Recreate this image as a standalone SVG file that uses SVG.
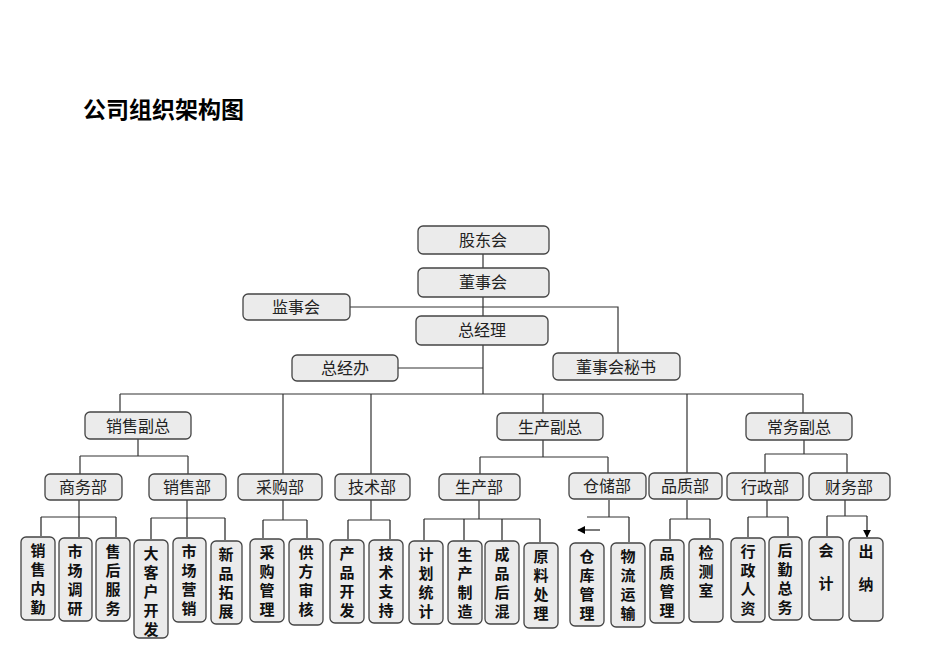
<svg xmlns="http://www.w3.org/2000/svg" width="950" height="672" viewBox="0 0 950 672">
<defs>
<marker id="ar" viewBox="0 0 10 10" refX="9" refY="5" markerWidth="8" markerHeight="8" markerUnits="userSpaceOnUse" orient="auto"><path d="M0,0L10,5L0,10z" fill="#000"/></marker>
</defs>
<style>
.b{fill:#ebebeb;stroke:#444;stroke-width:1.3}
.t{font-family:"Noto Sans CJK SC",sans-serif;font-size:16px;fill:#222;text-anchor:middle}
.v{font-family:"Noto Sans CJK SC",sans-serif;font-size:15px;font-weight:bold;fill:#111;text-anchor:middle}
.l{fill:none;stroke:#333;stroke-width:1.2}
.a{fill:none;stroke:#222;stroke-width:1.2;marker-end:url(#ar)}
</style>
<rect width="950" height="672" fill="#fff"/>
<text x="83" y="118" style="font-family:'Noto Sans CJK SC',sans-serif;font-size:23px;font-weight:bold">公司组织架构图</text>
<g id="connectors">
<path class="l" d="M483,254V268M483,297V316M350,307H618V353M483,345V394M398,368H483M120,394H803M120,394V412M283,394V474M371,394V474M543,394V413M687,394V474M803,394V413"/>
<path class="l" d="M138,439V456M80,456H188M80,456V474M188,456V474M543,440V457M480,457H608M480,457V474M608,457V474M804,440V454M765,454H847M765,454V474M847,454V474"/>
<path class="l" d="M79,500V517M41,517H116M187,500V518M151,518H225M283,500V520M263,520H307M371,500V520M348,520H390M479,500V519M424,519H540M609,500V517M587,517H629M687,500V519M670,519H710M767,500V517M748,517H788M845,500V516M827,516H867"/>
<path class="a" d="M41,517V536M79,517V537M116,517V537M151,518V539M187,518V537M225,518V540M263,520V538M307,520V538M348,520V539M390,520V539M424,519V540M464,519V540M502,519V540M540,519V542M629,517V542M670,519V539M710,519V538M748,517V537M788,517V536M827,516V536M867,516V537"/>
<path class="a" d="M600,530H578"/>
</g>
<g id="n1"><rect class="b" x="418" y="226" width="131" height="28" rx="5"/><text class="t" x="483" y="246">股东会</text></g>
<g id="n2"><rect class="b" x="418" y="268" width="131" height="29" rx="5"/><text class="t" x="483" y="288">董事会</text></g>
<g id="n3"><rect class="b" x="243" y="294" width="107" height="26" rx="5"/><text class="t" x="296" y="313">监事会</text></g>
<g id="n4"><rect class="b" x="416" y="316" width="132" height="29" rx="5"/><text class="t" x="482" y="336">总经理</text></g>
<g id="n5"><rect class="b" x="292" y="355" width="106" height="26" rx="5"/><text class="t" x="345" y="374">总经办</text></g>
<g id="n6"><rect class="b" x="553" y="353" width="127" height="27" rx="5"/><text class="t" x="616" y="373">董事会秘书</text></g>
<g id="n7"><rect class="b" x="85" y="412" width="106" height="27" rx="5"/><text class="t" x="138" y="432">销售副总</text></g>
<g id="n8"><rect class="b" x="497" y="413" width="106" height="27" rx="5"/><text class="t" x="550" y="433">生产副总</text></g>
<g id="n9"><rect class="b" x="746" y="413" width="106" height="27" rx="5"/><text class="t" x="799" y="433">常务副总</text></g>
<g id="d1"><rect class="b" x="45" y="474" width="77" height="26" rx="5"/><text class="t" x="83" y="493">商务部</text></g>
<g id="d2"><rect class="b" x="149" y="474" width="77" height="26" rx="5"/><text class="t" x="187" y="493">销售部</text></g>
<g id="d3"><rect class="b" x="238" y="474" width="84" height="26" rx="5"/><text class="t" x="280" y="493">采购部</text></g>
<g id="d4"><rect class="b" x="335" y="474" width="75" height="26" rx="5"/><text class="t" x="372" y="493">技术部</text></g>
<g id="d5"><rect class="b" x="439" y="474" width="81" height="26" rx="5"/><text class="t" x="479" y="493">生产部</text></g>
<g id="d6"><rect class="b" x="569" y="473" width="77" height="26" rx="5"/><text class="t" x="607" y="492">仓储部</text></g>
<g id="d7"><rect class="b" x="649" y="473" width="73" height="26" rx="5"/><text class="t" x="685" y="492">品质部</text></g>
<g id="d8"><rect class="b" x="727" y="473" width="76" height="27" rx="5"/><text class="t" x="765" y="493">行政部</text></g>
<g id="d9"><rect class="b" x="809" y="473" width="81" height="27" rx="5"/><text class="t" x="849" y="493">财务部</text></g>
<g id="s1"><rect class="b" x="21" y="537" width="34" height="83" rx="5"/><text class="v" x="38" y="556"><tspan x="38">销</tspan><tspan x="38" dy="19">售</tspan><tspan x="38" dy="19">内</tspan><tspan x="38" dy="19">勤</tspan></text></g>
<g id="s2"><rect class="b" x="59" y="538" width="33" height="83" rx="5"/><text class="v" x="75" y="557"><tspan x="75">市</tspan><tspan x="75" dy="19">场</tspan><tspan x="75" dy="19">调</tspan><tspan x="75" dy="19">研</tspan></text></g>
<g id="s3"><rect class="b" x="96" y="538" width="34" height="83" rx="5"/><text class="v" x="113" y="557"><tspan x="113">售</tspan><tspan x="113" dy="19">后</tspan><tspan x="113" dy="19">服</tspan><tspan x="113" dy="19">务</tspan></text></g>
<g id="s4"><rect class="b" x="134" y="540" width="34" height="98" rx="5"/><text class="v" x="151" y="559"><tspan x="151">大</tspan><tspan x="151" dy="19">客</tspan><tspan x="151" dy="19">户</tspan><tspan x="151" dy="19">开</tspan><tspan x="151" dy="19">发</tspan></text></g>
<g id="s5"><rect class="b" x="173" y="538" width="33" height="84" rx="5"/><text class="v" x="189" y="557"><tspan x="189">市</tspan><tspan x="189" dy="19">场</tspan><tspan x="189" dy="19">营</tspan><tspan x="189" dy="19">销</tspan></text></g>
<g id="s6"><rect class="b" x="211" y="541" width="31" height="83" rx="5"/><text class="v" x="226" y="560"><tspan x="226">新</tspan><tspan x="226" dy="19">品</tspan><tspan x="226" dy="19">拓</tspan><tspan x="226" dy="19">展</tspan></text></g>
<g id="s7"><rect class="b" x="250" y="539" width="34" height="83" rx="5"/><text class="v" x="267" y="558"><tspan x="267">采</tspan><tspan x="267" dy="19">购</tspan><tspan x="267" dy="19">管</tspan><tspan x="267" dy="19">理</tspan></text></g>
<g id="s8"><rect class="b" x="289" y="539" width="34" height="86" rx="5"/><text class="v" x="306" y="558"><tspan x="306">供</tspan><tspan x="306" dy="19">方</tspan><tspan x="306" dy="19">审</tspan><tspan x="306" dy="19">核</tspan></text></g>
<g id="s9"><rect class="b" x="330" y="540" width="34" height="83" rx="5"/><text class="v" x="347" y="559"><tspan x="347">产</tspan><tspan x="347" dy="19">品</tspan><tspan x="347" dy="19">开</tspan><tspan x="347" dy="19">发</tspan></text></g>
<g id="s10"><rect class="b" x="369" y="540" width="34" height="83" rx="5"/><text class="v" x="386" y="559"><tspan x="386">技</tspan><tspan x="386" dy="19">术</tspan><tspan x="386" dy="19">支</tspan><tspan x="386" dy="19">持</tspan></text></g>
<g id="s11"><rect class="b" x="409" y="541" width="34" height="83" rx="5"/><text class="v" x="426" y="560"><tspan x="426">计</tspan><tspan x="426" dy="19">划</tspan><tspan x="426" dy="19">统</tspan><tspan x="426" dy="19">计</tspan></text></g>
<g id="s12"><rect class="b" x="448" y="541" width="34" height="83" rx="5"/><text class="v" x="465" y="560"><tspan x="465">生</tspan><tspan x="465" dy="19">产</tspan><tspan x="465" dy="19">制</tspan><tspan x="465" dy="19">造</tspan></text></g>
<g id="s13"><rect class="b" x="485" y="541" width="34" height="83" rx="5"/><text class="v" x="502" y="560"><tspan x="502">成</tspan><tspan x="502" dy="19">品</tspan><tspan x="502" dy="19">后</tspan><tspan x="502" dy="19">混</tspan></text></g>
<g id="s14"><rect class="b" x="524" y="543" width="34" height="85" rx="5"/><text class="v" x="541" y="562"><tspan x="541">原</tspan><tspan x="541" dy="19">料</tspan><tspan x="541" dy="19">处</tspan><tspan x="541" dy="19">理</tspan></text></g>
<g id="s15"><rect class="b" x="570" y="543" width="34" height="83" rx="5"/><text class="v" x="587" y="562"><tspan x="587">仓</tspan><tspan x="587" dy="19">库</tspan><tspan x="587" dy="19">管</tspan><tspan x="587" dy="19">理</tspan></text></g>
<g id="s16"><rect class="b" x="611" y="543" width="34" height="84" rx="5"/><text class="v" x="628" y="562"><tspan x="628">物</tspan><tspan x="628" dy="19">流</tspan><tspan x="628" dy="19">运</tspan><tspan x="628" dy="19">输</tspan></text></g>
<g id="s17"><rect class="b" x="650" y="540" width="34" height="83" rx="5"/><text class="v" x="667" y="559"><tspan x="667">品</tspan><tspan x="667" dy="19">质</tspan><tspan x="667" dy="19">管</tspan><tspan x="667" dy="19">理</tspan></text></g>
<g id="s18"><rect class="b" x="689" y="539" width="34" height="83" rx="5"/><text class="v" x="706" y="558"><tspan x="706">检</tspan><tspan x="706" dy="19">测</tspan><tspan x="706" dy="19">室</tspan></text></g>
<g id="s19"><rect class="b" x="731" y="538" width="34" height="84" rx="5"/><text class="v" x="748" y="557"><tspan x="748">行</tspan><tspan x="748" dy="19">政</tspan><tspan x="748" dy="19">人</tspan><tspan x="748" dy="19">资</tspan></text></g>
<g id="s20"><rect class="b" x="769" y="537" width="33" height="83" rx="5"/><text class="v" x="785" y="556"><tspan x="785">后</tspan><tspan x="785" dy="19">勤</tspan><tspan x="785" dy="19">总</tspan><tspan x="785" dy="19">务</tspan></text></g>
<g id="s21"><rect class="b" x="809" y="537" width="34" height="83" rx="5"/><text class="v" x="826" y="556"><tspan x="826">会</tspan><tspan x="826" dy="33">计</tspan></text></g>
<g id="s22"><rect class="b" x="849" y="538" width="34" height="83" rx="5"/><text class="v" x="866" y="557"><tspan x="866">出</tspan><tspan x="866" dy="33">纳</tspan></text></g>
</svg>
